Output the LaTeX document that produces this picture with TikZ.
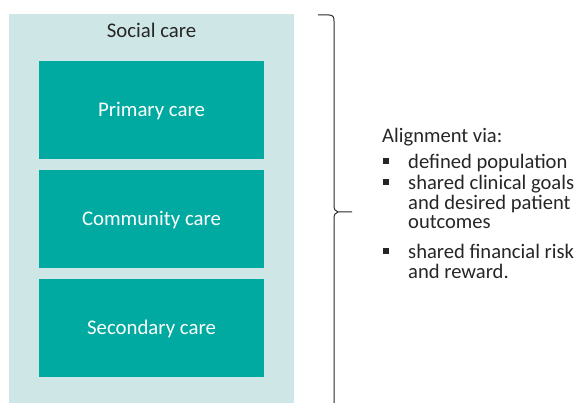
\documentclass[tikz,border=0pt]{standalone}
\usepackage{fontspec}
\setmainfont{Carlito}
\definecolor{caregreen}{RGB}{0,170,160}
\definecolor{socialbg}{RGB}{206,231,230}
\definecolor{inktext}{RGB}{38,38,38}
\definecolor{bracegrey}{RGB}{40,40,40}
\newcommand{\sqbullet}{\makebox[26pt][l]{\hspace{1pt}\raisebox{5pt}{\rule{6pt}{6pt}}}}
\newcommand{\contindent}{\hspace*{26pt}}
\begin{document}
\begin{tikzpicture}[x=1pt,y=-1pt,
  carebox/.style={rectangle, fill=caregreen, text=white, inner sep=0pt,
    minimum width=225pt, minimum height=98pt, text height=13pt, text depth=0pt,
    font=\fontsize{20.8}{24}\selectfont},
  socialbox/.style={rectangle, fill=socialbg, inner sep=0pt,
    minimum width=285pt, minimum height=389pt},
  bodytext/.style={text=inktext, inner sep=0pt, font=\fontsize{20.6}{19.5}\selectfont}
]
\useasboundingbox (0,0) rectangle (581,403);
\begin{scope}
\clip (0,0) rectangle (581,403);

% outer social care area
\node[socialbox] (social) at (151.5,208.5) {};
\node[bodytext, anchor=base, font=\fontsize{20.8}{24}\selectfont] (sociallabel) at (151.5,38) {Social care};

% care settings
\node[carebox] (primary) at (151.5,110) {Primary care};
\node[carebox] (community) at (151.5,219) {Community care};
\node[carebox] (secondary) at (151.5,328) {Secondary care};

% brace grouping the settings
\coordinate (bracetop) at (318,15);
\coordinate (bracetip) at (352,212);
\draw[bracegrey, line width=1pt]
  (bracetop) -- (329,15) .. controls (333,15) and (334,17) .. (334,21)
  -- (334,205) .. controls (334,209) and (335,211.5) .. (338,212)
  -- (bracetip);
\draw[bracegrey, line width=1pt]
  (338,212) .. controls (335,212.5) and (334,215) .. (334,219) -- (334,410);

% alignment list
\node[bodytext, anchor=base west] (aligntitle) at (382,143) {Alignment via:};
\node[bodytext, anchor=base west, align=left] (item1) at (382,169)
  {\sqbullet defined population};
\node[bodytext, anchor=north west, align=left] (item2) at (382,175)
  {\sqbullet shared clinical goals\\ \contindent and desired patient\\ \contindent outcomes};
\node[bodytext, anchor=base west, align=left] (item3) at (382,259)
  {\sqbullet shared financial risk};
\node[bodytext, anchor=base west, align=left] (item3b) at (382,279)
  {\contindent and reward.};
\end{scope}
\end{tikzpicture}
\end{document}
